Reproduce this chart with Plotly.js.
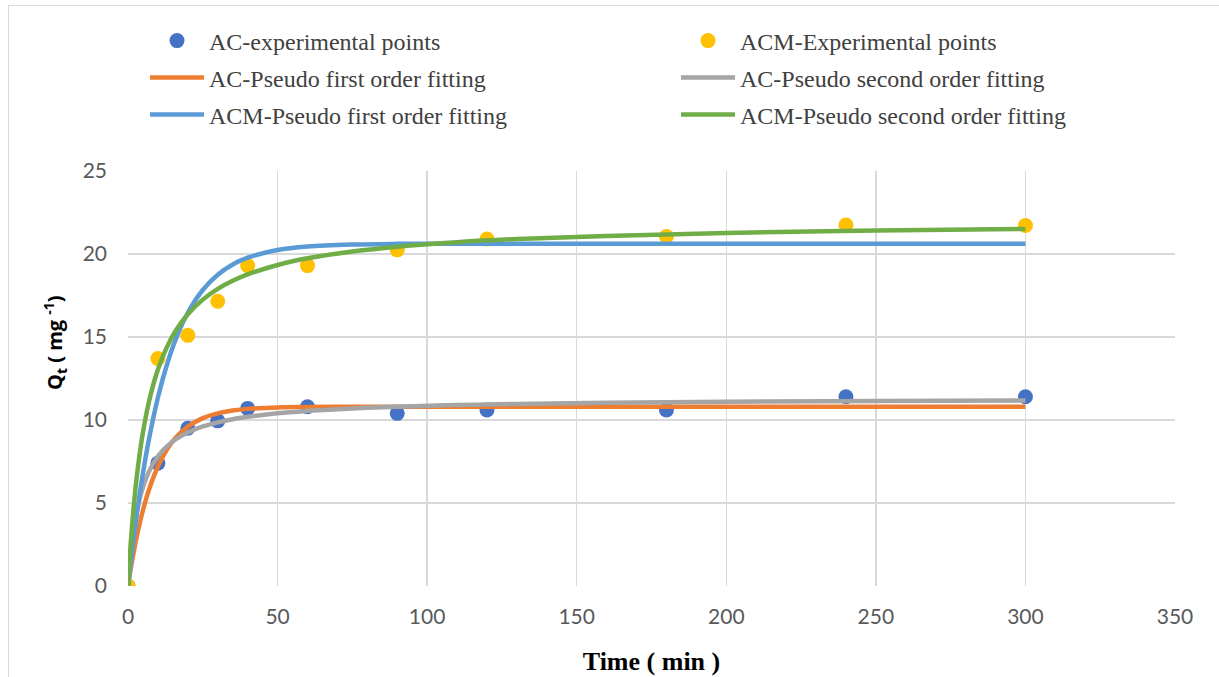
<!DOCTYPE html>
<html>
<head>
<meta charset="utf-8">
<script src="https://cdn.plot.ly/plotly-3.0.1.min.js"></script>
<style>
  html, body { margin: 0; padding: 0; background: #fff; }
  #wrap { position: relative; width: 1219px; height: 677px; }
  #chart { width: 1219px; height: 677px; }
  #frame { position: absolute; left: 8px; top: 5px; right: -2px; bottom: -2px; border: 1px solid #D9D9D9; pointer-events: none; }
</style>
</head>
<body>
<div id="wrap"><div id="chart"></div><div id="frame"></div></div>
<script>
// Experimental points
const expTime = [0, 10, 20, 30, 40, 60, 90, 120, 180, 240, 300];
const acExp  = [0, 7.4, 9.5, 9.95, 10.7, 10.8, 10.4, 10.6, 10.6, 11.4, 11.4];
const acmExp = [0, 13.7, 15.1, 17.15, 19.3, 19.3, 20.25, 20.9, 21.05, 21.75, 21.72];

// Fitted curves
const fitTime = [0, 1, 2, 3, 4, 5, 7, 10, 13, 16, 20, 25, 30, 35, 40, 50, 60, 75, 90, 110, 130, 160, 200, 250, 300];
const acPFO  = [0, 1.13, 2.13, 3.04, 3.84, 4.57, 5.80, 7.20, 8.22, 8.94, 9.60, 10.11, 10.40, 10.57, 10.67, 10.76, 10.78, 10.8, 10.8, 10.8, 10.8, 10.8, 10.8, 10.8, 10.8];
const acPSO  = [0, 2.05, 3.47, 4.52, 5.32, 5.95, 6.89, 7.81, 8.41, 8.84, 9.25, 9.61, 9.86, 10.05, 10.19, 10.41, 10.55, 10.70, 10.80, 10.90, 10.97, 11.04, 11.10, 11.15, 11.18];
const acmPFO = [0, 1.59, 3.05, 4.40, 5.65, 6.80, 8.84, 11.36, 13.33, 14.89, 16.46, 17.83, 18.75, 19.37, 19.78, 20.24, 20.45, 20.57, 20.61, 20.62, 20.62, 20.62, 20.62, 20.62, 20.62];
const acmPSO = [0, 2.79, 4.96, 6.68, 8.09, 9.26, 11.10, 13.04, 14.39, 15.39, 16.37, 17.25, 17.90, 18.39, 18.77, 19.34, 19.74, 20.15, 20.44, 20.71, 20.90, 21.09, 21.27, 21.41, 21.51];

const names = ['AC-experimental points', 'ACM-Experimental points',
  'AC-Pseudo first order fitting', 'AC-Pseudo second order fitting',
  'ACM-Pseudo first order fitting', 'ACM-Pseudo second order fitting'];
const colors = ['#4472C4', '#FFC000', '#ED7D31', '#A5A5A5', '#5B9BD5', '#70AD47'];

const traces = [
  {x: expTime, y: acExp, name: names[0], mode: 'markers', type: 'scatter', legend: 'legend',
   marker: {color: colors[0], size: 15}},
  {x: expTime, y: acmExp, name: names[1], mode: 'markers', type: 'scatter', legend: 'legend2',
   marker: {color: colors[1], size: 15}},
  {x: fitTime, y: acPFO, name: names[2], mode: 'lines', type: 'scatter', legend: 'legend3',
   line: {color: colors[2], width: 4.5, shape: 'spline'}},
  {x: fitTime, y: acPSO, name: names[3], mode: 'lines', type: 'scatter', legend: 'legend4',
   line: {color: colors[3], width: 4.5, shape: 'spline'}},
  {x: fitTime, y: acmPFO, name: names[4], mode: 'lines', type: 'scatter', legend: 'legend5',
   line: {color: colors[4], width: 4.5, shape: 'spline'}},
  {x: fitTime, y: acmPSO, name: names[5], mode: 'lines', type: 'scatter', legend: 'legend6',
   line: {color: colors[5], width: 4.5, shape: 'spline'}}
];

const legFont = {family: '"Liberation Serif", "Times New Roman", serif', size: 24, color: '#404040'};
function leg(xl, yc) {
  return {orientation: 'h', itemwidth: 54,
    xref: 'container', yref: 'container', x: xl / 1219, y: 1 - yc / 677,
    xanchor: 'left', yanchor: 'middle', font: legFont, bgcolor: 'rgba(0,0,0,0)'};
}

const tickFont = {family: 'Lato, "Open Sans", sans-serif', size: 21, color: '#595959'};

const layout = {
  width: 1219, height: 677,
  margin: {l: 128, r: 44, t: 171, b: 91},
  paper_bgcolor: '#fff', plot_bgcolor: '#fff',
  showlegend: true,
  legend: leg(145, 41),
  legend2: leg(676, 41),
  legend3: leg(145, 78),
  legend4: leg(676, 78),
  legend5: leg(145, 115),
  legend6: leg(676, 115),
  xaxis: {
    range: [0, 350], dtick: 50, tick0: 0, showgrid: true, gridcolor: '#D9D9D9', gridwidth: 1.3,
    zeroline: false, showline: false, ticks: '', tickfont: tickFont, ticklabelstandoff: 16,
    title: {text: 'Time ( min )', font: {family: '"Liberation Serif", "Times New Roman", serif', size: 26, color: '#000', weight: 'bold'}, standoff: 24}
  },
  yaxis: {
    range: [0, 25], dtick: 5, tick0: 0, showgrid: true, gridcolor: '#D9D9D9', gridwidth: 1.3,
    zeroline: false, showline: false, ticks: '', tickfont: tickFont, ticklabelstandoff: 20
  },
  annotations: [{
    text: '<b>Q<sub>t</sub> ( mg <sup>-1</sup>)</b>', textangle: -90,
    xref: 'paper', yref: 'paper', x: (55 - 128) / 1047, y: (586 - 343) / 415,
    xanchor: 'center', yanchor: 'middle', showarrow: false,
    font: {family: '"Open Sans", Lato, sans-serif', size: 20, color: '#000'}
  }]
};

Plotly.newPlot('chart', traces, layout, {displayModeBar: false, staticPlot: true});
</script>
</body>
</html>
